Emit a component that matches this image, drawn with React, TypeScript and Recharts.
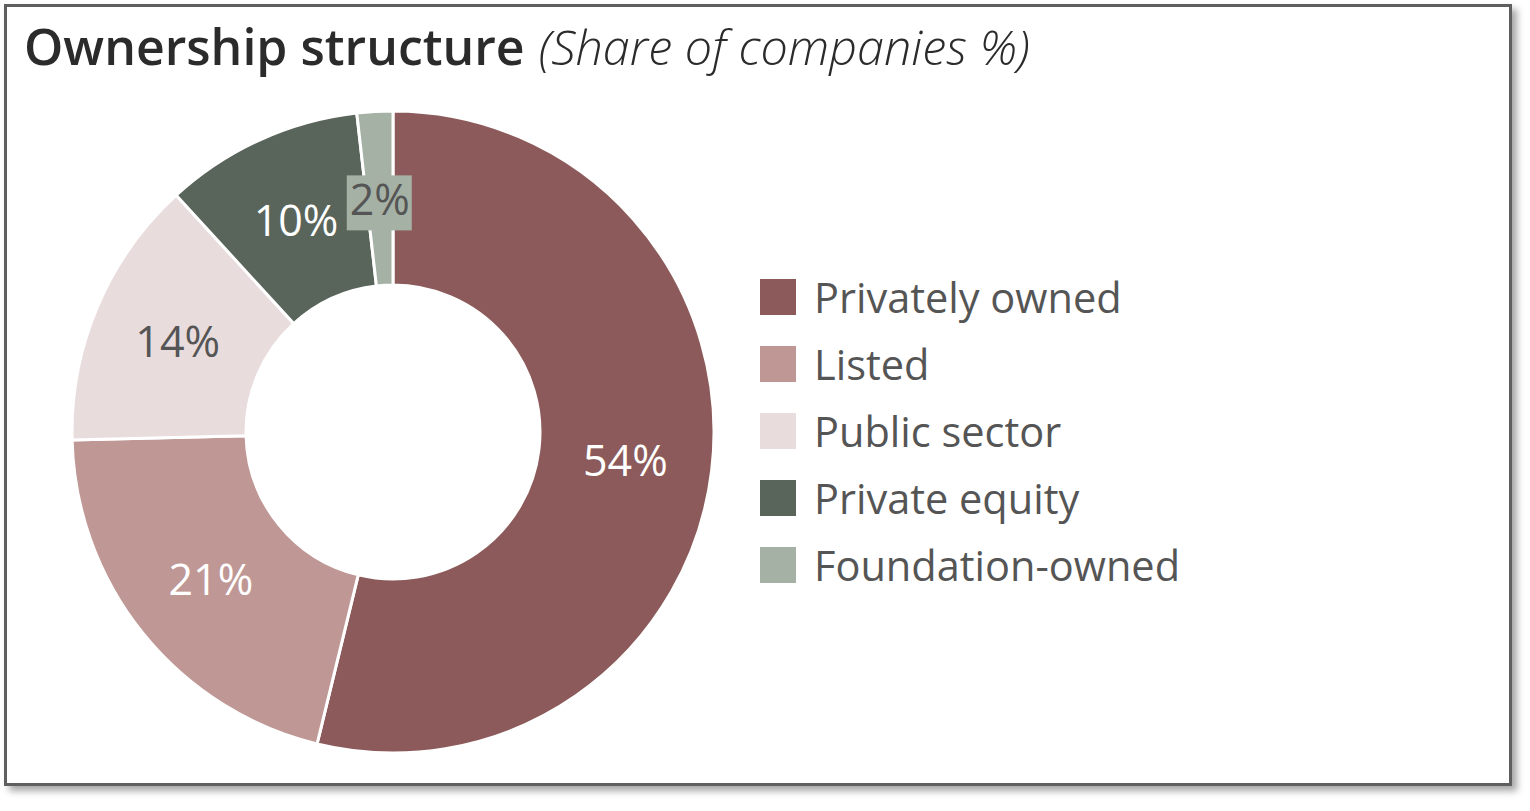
import { Cell, Pie, PieChart } from 'recharts'

const CATEGORIES = ['Privately owned', 'Listed', 'Public sector', 'Private equity', 'Foundation-owned']
// shares; labels show them rounded
const SHARES = [53.8, 20.8, 13.6, 10.0, 1.8]

const COLORS = ['#8c5a5a', '#bf9896', '#e9dcdd', '#59645a', '#a6b1a5']
const LABEL_COLORS = ['#ffffff', '#ffffff', '#555555', '#ffffff', '#555555']
/** Slices whose label sits on a box of the slice colour (too thin to hold text). */
const BOXED = [false, false, false, false, true]

const FONT = '"Open Sans", sans-serif'
const RAD = Math.PI / 180

const data = CATEGORIES.map((name, i) => ({ name, value: SHARES[i] }))

function SliceLabel(props: any) {
  const { cx, cy, midAngle, innerRadius, outerRadius, value, index } = props
  const r = (innerRadius + outerRadius) / 2
  const x = cx + r * Math.cos(-midAngle * RAD)
  const y = cy + r * Math.sin(-midAngle * RAD)
  const text = `${Math.round(value)}%`
  return (
    <g>
      {BOXED[index] ? (
        <rect x={x - 33} y={y - 23} width={65} height={55} fill={COLORS[index]} />
      ) : null}
      <text
        x={x}
        y={y}
        fill={LABEL_COLORS[index]}
        fontFamily={FONT}
        fontSize={43}
        textAnchor='middle'
        dominantBaseline='central'
      >
        {text}
      </text>
    </g>
  )
}

function LegendList() {
  return (
    <div style={{ position: 'absolute', left: 753, top: 257, fontFamily: FONT }}>
      {CATEGORIES.map((name, i) => (
        <div
          key={`legend-${i}`}
          style={{ display: 'flex', alignItems: 'center', height: 66.8 }}
        >
          <div style={{ width: 36, height: 36, background: COLORS[i], marginRight: 18 }} />
          <span style={{ fontSize: 41.5, color: '#555555' }}>{name}</span>
        </div>
      ))}
    </div>
  )
}

export default function App() {
  return (
    <div
      style={{
        position: 'absolute',
        left: 4,
        top: 4,
        width: 1502,
        height: 776,
        border: '3px solid #5f5f5f',
        background: '#ffffff',
        boxShadow: '5px 5px 7px rgba(0,0,0,0.35)',
        fontFamily: FONT
      }}
    >
      <div
        style={{
          position: 'absolute',
          left: 17,
          top: 5,
          whiteSpace: 'nowrap',
          color: '#2b2b2b'
        }}
      >
        <span style={{ fontSize: 50, fontWeight: 600 }}>Ownership structure</span>
        <span style={{ fontSize: 48.5, fontWeight: 300, fontStyle: 'italic', marginLeft: 14 }}>
          (Share of companies %)
        </span>
      </div>
      <PieChart width={740} height={776} margin={{ top: 0, right: 0, bottom: 0, left: 0 }}>
        <Pie
          data={data}
          dataKey='value'
          nameKey='name'
          cx={386}
          cy={425}
          innerRadius={147}
          outerRadius={321}
          startAngle={90}
          endAngle={-270}
          stroke='#ffffff'
          strokeWidth={3}
          label={SliceLabel}
          labelLine={false}
          isAnimationActive={false}
        >
          {data.map((_, i) => (
            <Cell key={`cell-${i}`} fill={COLORS[i]} />
          ))}
        </Pie>
      </PieChart>
      <LegendList />
    </div>
  )
}
